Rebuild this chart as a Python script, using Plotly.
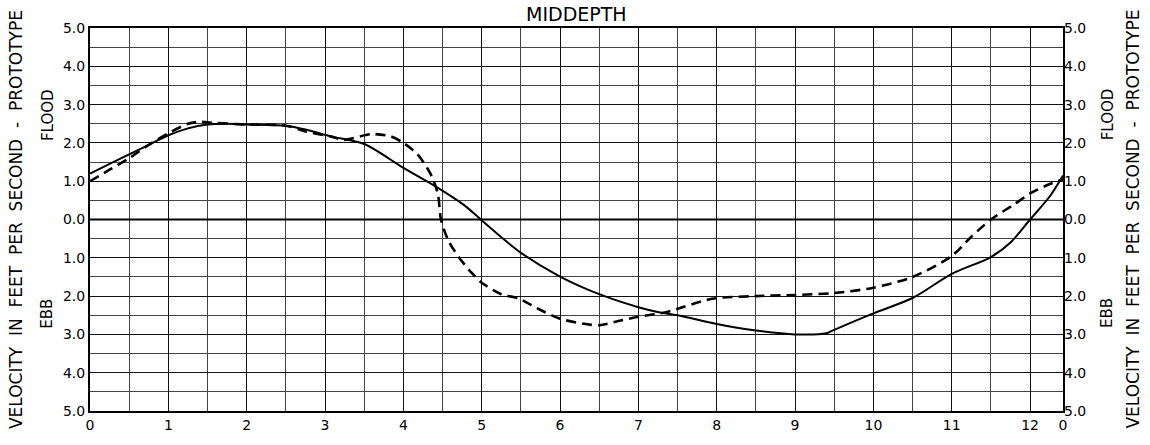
import plotly.graph_objects as go

# Hours of tidal cycle (lunar hours), velocity: flood positive, ebb negative
hours_solid = [0.0, 0.25, 0.5, 0.75, 1.0, 1.25, 1.5, 1.75, 2.0, 2.5, 2.75, 3.07, 3.5, 4.0, 4.4,
               4.78, 5.0, 5.29, 5.5, 6.0, 6.5, 7.0, 7.26, 7.5, 8.0, 8.5, 9.0, 9.4,
               9.5, 10.0, 10.5, 11.0, 11.5, 11.75, 12.0, 12.25, 12.42]
vel_solid = [1.2, 1.45, 1.7, 1.95, 2.2, 2.38, 2.48, 2.5, 2.48, 2.45, 2.35, 2.17, 1.97, 1.35, 0.88,
             0.37, -0.02, -0.53, -0.87, -1.49, -1.95, -2.29, -2.42, -2.5, -2.73, -2.9, -3.0, -2.97,
             -2.88, -2.45, -2.05, -1.42, -0.98, -0.6, 0.0, 0.6, 1.15]

hours_dashed = [0.0, 0.25, 0.5, 0.75, 1.0, 1.25, 1.4, 1.6, 2.0, 2.5, 2.75, 3.07, 3.24, 3.59, 3.84,
                4.0, 4.18, 4.35, 4.44, 4.48, 4.57, 4.7, 4.87, 5.0, 5.25, 5.47, 5.72, 6.0, 6.3, 6.5,
                6.79, 7.0, 7.35, 7.94, 8.5, 9.0, 9.5, 10.0, 10.5, 11.0, 11.25, 11.5, 11.8, 12.0, 12.2, 12.42]
vel_dashed = [1.0, 1.3, 1.6, 1.95, 2.25, 2.5, 2.55, 2.52, 2.48, 2.45, 2.3, 2.17, 2.08, 2.23, 2.17,
              2.0, 1.7, 1.18, 0.67, 0.0, -0.53, -0.96, -1.39, -1.65, -1.95, -2.06, -2.33, -2.59, -2.72, -2.76,
              -2.63, -2.54, -2.42, -2.07, -2.0, -1.97, -1.92, -1.78, -1.5, -0.95, -0.45, 0.0, 0.4, 0.68, 0.88, 1.05]

x_tickvals = list(range(0, 13)) + [12.42]
x_ticktext = [str(i) for i in range(0, 13)] + ["0"]
y_tickvals = [-5, -4, -3, -2, -1, 0, 1, 2, 3, 4, 5]
y_ticktext = ["5.0", "4.0", "3.0", "2.0", "1.0", "0.0", "1.0", "2.0", "3.0", "4.0", "5.0"]

FONT = "DejaVu Sans"

fig = go.Figure()
fig.add_trace(go.Scatter(x=hours_solid, y=vel_solid, mode="lines",
                         line=dict(color="black", width=2, shape="spline", smoothing=0.8),
                         showlegend=False, hoverinfo="skip"))
fig.add_trace(go.Scatter(x=hours_dashed, y=vel_dashed, mode="lines",
                         line=dict(color="black", width=2.6, dash="10px,6px", shape="spline", smoothing=0.8),
                         showlegend=False, hoverinfo="skip"))
# invisible trace to anchor the right-hand axis
fig.add_trace(go.Scatter(x=[0], y=[0], yaxis="y2", mode="markers",
                         marker=dict(opacity=0), showlegend=False, hoverinfo="skip"))

axis_common = dict(showline=True, linecolor="black", linewidth=2, mirror=True,
                   ticks="", zeroline=False)

fig.update_layout(
    width=1150, height=445,
    margin=dict(l=89.5, r=87, t=28, b=28),
    paper_bgcolor="white", plot_bgcolor="white",
    font=dict(family=FONT, color="black", size=14),
    xaxis=dict(range=[0, 12.42], tickmode="array", tickvals=x_tickvals, ticktext=x_ticktext,
               showgrid=True, gridcolor="#111", gridwidth=1.2,
               minor=dict(dtick=0.5, tick0=0, showgrid=True, gridcolor="#444", gridwidth=1),
               tickfont=dict(size=14), **axis_common),
    yaxis=dict(range=[-5, 5], tickmode="array", tickvals=y_tickvals, ticktext=y_ticktext,
               showgrid=True, gridcolor="#111", gridwidth=1.2,
               minor=dict(dtick=0.5, tick0=0, showgrid=True, gridcolor="#444", gridwidth=1),
               tickfont=dict(size=14), **axis_common),
    yaxis2=dict(range=[-5, 5], overlaying="y", side="right", tickmode="array",
                tickvals=y_tickvals, ticktext=y_ticktext, showgrid=False,
                tickfont=dict(size=14), showline=False, ticks="", zeroline=False),
)

# zero line emphasis
fig.add_hline(y=0, line=dict(color="black", width=2))

ann = []
ann.append(dict(text="MIDDEPTH", x=0.5, y=1.002, xref="paper", yref="paper",
                xanchor="center", yanchor="bottom", showarrow=False,
                font=dict(size=19, family=FONT)))
ann.append(dict(text="VELOCITY  IN  FEET  PER  SECOND  -  PROTOTYPE", x=-0.0765, y=0.5,
                xref="paper", yref="paper", textangle=-90, showarrow=False,
                xanchor="center", yanchor="middle", font=dict(size=17, family=FONT)))
ann.append(dict(text="VELOCITY  IN  FEET  PER  SECOND  -  PROTOTYPE", x=1.071, y=0.5,
                xref="paper", yref="paper", textangle=-90, showarrow=False,
                xanchor="center", yanchor="middle", font=dict(size=17, family=FONT)))
for xx in (-0.0437, 1.046):
    ann.append(dict(text="FLOOD", x=xx, y=0.774, xref="paper", yref="paper", textangle=-90,
                    showarrow=False, xanchor="center", yanchor="middle",
                    font=dict(size=15, family=FONT)))
    ann.append(dict(text="EBB", x=xx, y=0.255, xref="paper", yref="paper", textangle=-90,
                    showarrow=False, xanchor="center", yanchor="middle",
                    font=dict(size=15, family=FONT)))
fig.update_layout(annotations=ann)

fig.write_html("out.html", config={"displayModeBar": False},
               post_script="document.body.style.margin='0';")
